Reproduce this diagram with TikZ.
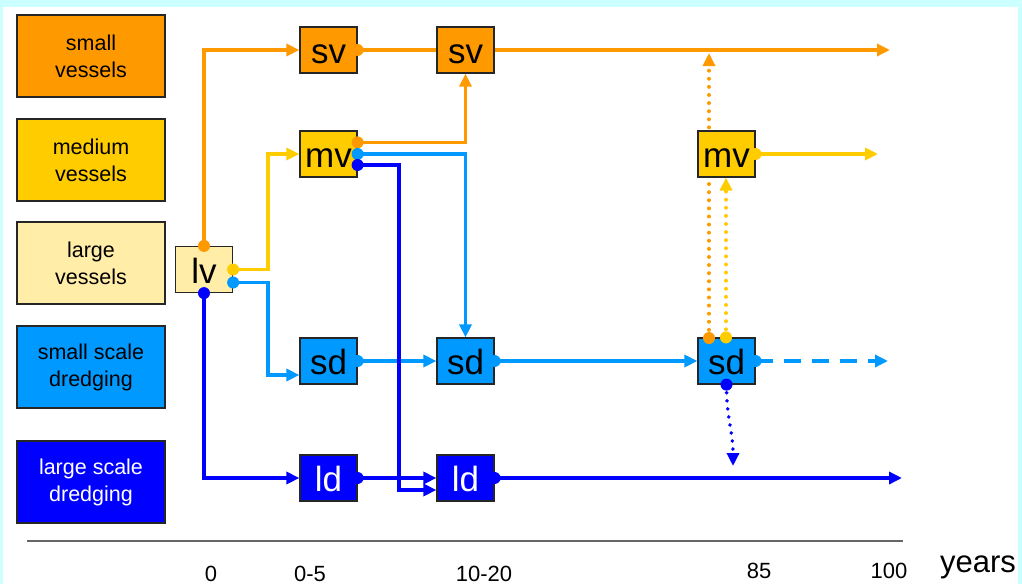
\documentclass[tikz,border=0pt]{standalone}
\usepackage{fontspec}
\setmainfont{Liberation Sans}
\usetikzlibrary{arrows.meta}
\definecolor{cOr}{HTML}{FF9900}
\definecolor{cGo}{HTML}{FFCC00}
\definecolor{cPa}{HTML}{FFEDA8}
\definecolor{cLb}{HTML}{0099FF}
\definecolor{cBl}{HTML}{0000FF}
\definecolor{cBg}{HTML}{CCFFFF}
\definecolor{cAx}{HTML}{666666}
\tikzset{
  legbox/.style={draw=black!85, line width=1.5pt, minimum width=148pt, minimum height=82pt, inner sep=0pt, align=center, font=\fontsize{21.5}{27}\selectfont},
  smbox/.style={draw=black!85, line width=1.2pt, minimum width=57pt, minimum height=46pt, inner sep=0pt, text height=27pt, text depth=0pt, font=\fontsize{35}{35}\selectfont},
  conn/.style={line width=3.8pt, -{Triangle[length=13pt,width=12pt]}},
  plain/.style={line width=3.8pt},
  dotted line/.style={line width=3.8pt, dash pattern=on 0.1pt off 8pt, line cap=round},
  dot/.style={circle, fill=#1, inner sep=0pt, minimum size=12pt},
  ticklab/.style={font=\fontsize{22}{22}\selectfont, anchor=base},
}
\begin{document}
\begin{tikzpicture}[x=1pt,y=-1pt]
\fill[cBg] (0,0) rectangle (1022,584);
\fill[white] (3,7) rectangle (1018,584);
\useasboundingbox (0,0) rectangle (1022,584);

% legend
\node[legbox, fill=cOr] (l1) at (91,56) {small\\vessels};
\node[legbox, fill=cGo] (l2) at (91,160) {medium\\vessels};
\node[legbox, fill=cPa] (l3) at (91,263) {large\\vessels};
\node[legbox, fill=cLb] (l4) at (91,367) {small scale\\dredging};
\node[legbox, fill=cBl, text=white] (l5) at (91,482) {large scale\\dredging};

% connector behind mv2
\draw[dotted line, cOr, -{Triangle[length=13pt,width=12pt]}] (709,338) -- (709,53);

% boxes
\node[smbox, fill=cPa] (lv) at (204,269.5) {lv};
\node[smbox, fill=cOr] (sv1) at (328.5,50) {sv};
\node[smbox, fill=cOr] (sv2) at (465.5,50) {sv};
\node[smbox, fill=cGo] (mv1) at (328.5,154) {mv};
\node[smbox, fill=cLb] (sd1) at (328.5,361) {sd};
\node[smbox, fill=cLb] (sd2) at (465.5,361) {sd};
\node[smbox, fill=cBl, text=white] (ld1) at (328.5,478) {ld};
\node[smbox, fill=cBl, text=white] (ld2) at (465.5,478) {ld};
\node[smbox, fill=cGo] (mv2) at (726.5,154) {mv};
\node[smbox, fill=cLb] (sd3) at (726.5,361) {sd};

% connector end coordinates
\coordinate (e1) at (890,50);
\coordinate (e2) at (878,154);
\coordinate (e3) at (888,361);
\coordinate (e4) at (902,478);
\coordinate (e5) at (733,466);

% orange
\draw[conn, cOr] (lv.north) |- (sv1.west);
\draw[plain, cOr] (sv1.east) -- (sv2.west);
\draw[conn, cOr] (sv2.east) -- (e1);
\draw[conn, cOr] ([yshift=-12pt]mv1.north east) -| (sv2.south);
% gold
\draw[conn, cGo] (lv.east) -- ++(35,0) |- (mv1.west);
\draw[conn, cGo] (mv2.east) -- (e2);
\draw[dotted line, cGo, -{Triangle[length=13pt,width=12pt]}] ([xshift=-0.5pt]sd3.north) -- ([xshift=-0.5pt]mv2.south);
% light blue
\draw[conn, cLb] (mv1.east) -| (sd2.north);
\draw[conn, cLb] ([yshift=-13pt]lv.east) -- ++(35,0) |- ([yshift=-14pt]sd1.west);
\draw[conn, cLb] (sd1.east) -- (sd2.west);
\draw[conn, cLb] (sd2.east) -- (sd3.west);
\draw[conn, cLb, dash pattern=on 17pt off 11pt] (sd3.east) -- (e3);
% blue
\draw[conn, cBl] (lv.south) |- (ld1.west);
\draw[conn, cBl] ([yshift=-11pt]mv1.east) -- ++(41,0) |- ([yshift=-12pt]ld2.west);
\draw[conn, cBl] (ld1.east) -- (ld2.west);
\draw[conn, cBl] (ld2.east) -- (e4);
\draw[dotted line, cBl, -{Triangle[length=13pt,width=12pt]}] (sd3.south) .. controls (726.5,420) and (733,430) .. (e5);

% dots
\node[dot=cOr] (d1) at (lv.north) {};
\node[dot=cGo] (d2) at (lv.east) {};
\node[dot=cLb] (d3) at ([yshift=-13pt]lv.east) {};
\node[dot=cBl] (d4) at (lv.south) {};
\node[dot=cOr] (d5) at ([yshift=-12pt]mv1.north east) {};
\node[dot=cLb] (d6) at (mv1.east) {};
\node[dot=cBl] (d7) at ([yshift=-11pt]mv1.east) {};
\node[dot=cOr] (d8) at (sv1.east) {};
\node[dot=cLb] (d9) at (sd1.east) {};
\node[dot=cLb] (d10) at (sd2.east) {};
\node[dot=cBl] (d11) at (ld1.east) {};
\node[dot=cBl] (d12) at (ld2.east) {};
\node[dot=cLb] (d13) at (sd3.east) {};
\node[dot=cGo] (d14) at (mv2.east) {};
\node[dot=cOr] (d15) at (709,338) {};
\node[dot=cGo] (d16) at ([xshift=-0.5pt]sd3.north) {};
\node[dot=cBl] (d17) at (sd3.south) {};

% axis
\coordinate (a1) at (27,541);
\coordinate (a2) at (903,541);
\draw[cAx, line width=2.5pt] (a1) -- (a2);
\node[ticklab] (t0) at (211,581) {0};
\node[ticklab] (t1) at (310,581) {0-5};
\node[ticklab] (t2) at (484,581) {10-20};
\node[ticklab] (t3) at (759,578) {85};
\node[ticklab] (t4) at (889,578) {100};
\node[font=\fontsize{31}{31}\selectfont, anchor=base] (ty) at (978,572) {years};
\end{tikzpicture}
\end{document}
